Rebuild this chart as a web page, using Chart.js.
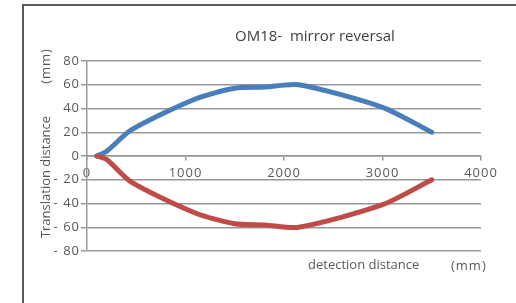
<!DOCTYPE html>
<html>
<head>
<meta charset="utf-8">
<script src="https://cdn.jsdelivr.net/npm/chart.js@4"></script>
<style>
  html, body { margin: 0; padding: 0; background: #fff; }
  #wrap { width: 516px; height: 303px; }
</style>
</head>
<body>
<div id="wrap"><canvas id="chart" width="516" height="303"></canvas></div>
<script>
// detection distance (mm) and translation distance (mm)
const blueX = [100, 200, 450, 1100, 1500, 1800, 2150, 3000, 3500];
const blueY = [0, 4, 22, 48, 57, 58, 60, 41, 20];
const redX = [100, 200, 450, 1100, 1500, 1800, 2150, 3000, 3500];
const redY = [0, -3, -22, -48, -57, -58, -60, -41, -20];
const xTicks = [0, 1000, 2000, 3000, 4000];
const yTicks = [-80, -60, -40, -20, 0, 20, 40, 60, 80];

const titleText = 'OM18-  mirror reversal';
const yTitle = 'Translation distance';
const xTitle = 'detection distance';
const unitText = '(mm)';

const textColor = '#595959';
const gridColor = '#979797';

function toPoints(xs, ys) {
    return xs.map((x, i) => ({ x: x, y: ys[i] }));
}

// frame, title and axis titles in the same places Excel put them
const decorations = {
    id: 'decorations',
    beforeDraw(chart) {
        const ctx = chart.ctx;
        ctx.save();
        ctx.strokeStyle = '#5a5a5a';
        ctx.lineWidth = 2;
        ctx.beginPath();
        ctx.moveTo(23, 303);
        ctx.lineTo(23, 5);
        ctx.lineTo(516, 5);
        ctx.stroke();
        ctx.restore();
    },
    afterDraw(chart) {
        const ctx = chart.ctx;
        ctx.save();
        ctx.fillStyle = '#404040';
        ctx.textBaseline = 'middle';
        ctx.textAlign = 'left';
        ctx.letterSpacing = '0px';
        ctx.font = '15px "Open Sans"';
        ctx.fillText(titleText, 235, 37);

        ctx.fillStyle = textColor;
        ctx.font = '13px "Open Sans"';
        ctx.fillText(xTitle, 308, 265);
        ctx.letterSpacing = '1px';
        ctx.fillText(unitText, 451, 266);

        ctx.translate(46, 177);
        ctx.rotate(-Math.PI / 2);
        ctx.textAlign = 'center';
        ctx.letterSpacing = '0px';
        ctx.fillText(yTitle, 0, 0);
        ctx.letterSpacing = '1px';
        ctx.fillText(unitText, 111, 0);
        ctx.restore();
    }
};

const spacing = {
    id: 'spacing',
    beforeDraw(chart) { chart.ctx.letterSpacing = '1px'; },
    afterDraw(chart) { chart.ctx.letterSpacing = '0px'; }
};

new Chart(document.getElementById('chart').getContext('2d'), {
    type: 'line',
    data: {
        datasets: [
            {
                data: toPoints(blueX, blueY),
                borderColor: '#4A7EBB',
                borderWidth: 5,
                pointRadius: 0,
                tension: 0.25,
                order: 1,
                borderCapStyle: 'round',
                borderJoinStyle: 'round'
            },
            {
                data: toPoints(redX, redY),
                borderColor: '#BE4B48',
                borderWidth: 5,
                pointRadius: 0,
                tension: 0.25,
                order: 0,
                borderCapStyle: 'round',
                borderJoinStyle: 'round'
            }
        ]
    },
    options: {
        responsive: false,
        animation: false,
        layout: { padding: { left: 0, top: 61, right: 35, bottom: 52 } },
        plugins: {
            legend: { display: false },
            tooltip: { enabled: false }
        },
        scales: {
            x: {
                type: 'linear',
                position: { y: 0 },
                min: 0,
                max: 4000,
                afterBuildTicks: scale => { scale.ticks = xTicks.map(v => ({ value: v })); },
                grid: { drawOnChartArea: false, drawTicks: true, tickLength: 4, color: gridColor, lineWidth: 1.5 },
                border: { color: gridColor, width: 1.5 },
                ticks: {
                    color: textColor,
                    font: { family: 'Open Sans', size: 13 },
                    padding: 5,
                    maxRotation: 0,
                    callback: v => String(v)
                }
            },
            y: {
                min: -80,
                max: 80,
                afterBuildTicks: scale => { scale.ticks = yTicks.map(v => ({ value: v })); },
                afterFit: scale => { scale.width = 87; },
                grid: { color: gridColor, lineWidth: 1.5, tickLength: 6 },
                border: { color: gridColor, width: 1.5 },
                ticks: {
                    color: textColor,
                    font: { family: 'Open Sans', size: 13 },
                    padding: 1,
                    callback: v => v < 0 ? '- ' + Math.abs(v) : String(v)
                }
            }
        }
    },
    plugins: [spacing, decorations]
});
</script>
</body>
</html>
